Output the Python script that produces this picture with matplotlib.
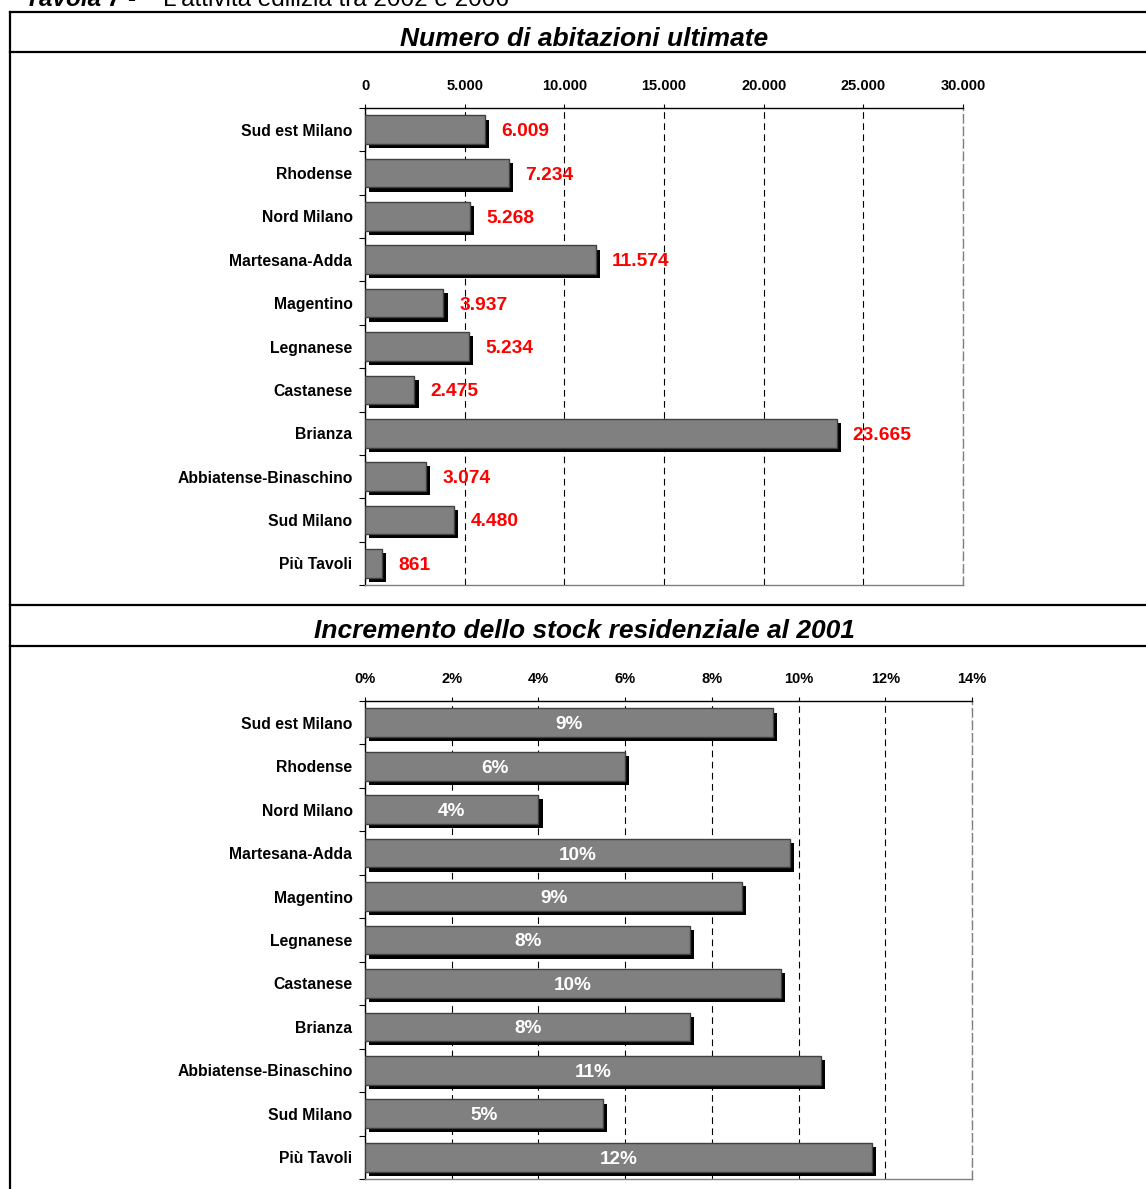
import matplotlib
matplotlib.use("Agg")
import matplotlib.pyplot as plt
import matplotlib.patheffects as pe
from matplotlib.lines import Line2D
from matplotlib.ticker import FuncFormatter, MultipleLocator, FixedLocator
import numpy as np

plt.rcParams["font.family"] = ["Liberation Sans", "DejaVu Sans"]

# --- dati ---
aree = ["Sud est Milano", "Rhodense", "Nord Milano", "Martesana-Adda", "Magentino",
        "Legnanese", "Castanese", "Brianza", "Abbiatense-Binaschino", "Sud Milano",
        "Più Tavoli"]
abitazioni = [6009, 7234, 5268, 11574, 3937, 5234, 2475, 23665, 3074, 4480, 861]
incremento = [9.4, 6.0, 4.0, 9.8, 8.7, 7.5, 9.6, 7.5, 10.52, 5.48, 11.7]

W, H = 1146, 1189
fig = plt.figure(figsize=(W / 100, H / 100), dpi=100)


def fx(px):
    return px / W


def fy(py):
    return 1 - py / H


shadow = [pe.SimplePatchShadow(offset=(3.0, -3.0), shadow_rgbFace="black", alpha=1.0),
          pe.Normal()]


def bar_chart(ax, values, xmax, step):
    y = np.arange(len(aree))
    bars = ax.barh(y, values, height=0.66, color="#808080", edgecolor="#404040",
                   linewidth=1.0, zorder=3)
    for b in bars:
        b.set_path_effects(shadow)
    ax.set_ylim(len(aree) - 0.5, -0.5)
    ax.set_xlim(0, xmax)
    ax.xaxis.set_major_locator(MultipleLocator(step))
    ax.xaxis.tick_top()
    ax.tick_params(axis="x", which="major", direction="out", length=3, width=0.8,
                   labelsize=10.5, pad=7.5, color="black")
    for t in ax.get_xticklabels():
        t.set_fontweight("bold")
    ax.set_yticks(y)
    ax.set_yticklabels(aree, fontsize=11.3, fontweight="bold")
    ax.tick_params(axis="y", which="major", length=0, pad=9)
    ax.yaxis.set_minor_locator(FixedLocator(np.arange(len(aree) + 1) - 0.5))
    ax.tick_params(axis="y", which="minor", length=4, width=0.8, direction="out")
    ax.grid(axis="x", color="black", linestyle=(0, (6, 4)), linewidth=0.8, zorder=0)
    ax.spines["top"].set_color("black")
    ax.spines["left"].set_color("black")
    ax.spines["bottom"].set_color("#808080")
    ax.spines["right"].set_color("#808080")
    ax.spines["right"].set_linestyle((0, (6, 3)))
    for s in ax.spines.values():
        s.set_linewidth(1.0)
    return bars


# --- grafico 1: numero di abitazioni ultimate ---
ax1 = fig.add_axes([fx(365), fy(585), fx(963) - fx(365), fy(108) - fy(585)])
bar_chart(ax1, abitazioni, 30000, 5000)
ax1.xaxis.set_major_formatter(FuncFormatter(lambda v, p: f"{v:,.0f}".replace(",", ".")))
for i, v in enumerate(abitazioni):
    ax1.annotate(f"{v:,}".replace(",", "."), xy=(v, i), xytext=(11.5, 0),
                 textcoords="offset points", va="center_baseline", ha="left",
                 color="#FF0000", fontsize=13.8, fontweight="bold", zorder=5)

# --- grafico 2: incremento dello stock residenziale ---
ax2 = fig.add_axes([fx(365), fy(1179), fx(972) - fx(365), fy(701) - fy(1179)])
bar_chart(ax2, incremento, 14, 2)
ax2.xaxis.set_major_formatter(FuncFormatter(lambda v, p: f"{v:.0f}%"))
for i, v in enumerate(incremento):
    ax2.text(v / 2, i, f"{int(v + 0.5):d}%", va="center_baseline", ha="center",
             color="white", fontsize=13.6, fontweight="bold", zorder=5)

# --- titoli e cornice ---
fig.text(fx(25), fy(6), "Tavola 7 -", fontsize=17.5, fontweight="bold",
         fontstyle="italic", va="baseline")
fig.text(fx(163), fy(6), "L'attività edilizia tra 2002 e 2006", fontsize=17.5,
         va="baseline")
fig.text(fx(584), fy(38.5), "Numero di abitazioni ultimate", fontsize=19,
         fontweight="bold", fontstyle="italic", ha="center", va="center")
fig.text(fx(584), fy(630.5), "Incremento dello stock residenziale al 2001", fontsize=19,
         fontweight="bold", fontstyle="italic", ha="center", va="center")

for py in (12, 52, 605, 646):
    fig.add_artist(Line2D([fx(10), 1], [fy(py), fy(py)], color="black", linewidth=1.6))
fig.add_artist(Line2D([fx(10), fx(10)], [fy(12), 0], color="black", linewidth=1.6))

fig.savefig("out.png", dpi=100)
